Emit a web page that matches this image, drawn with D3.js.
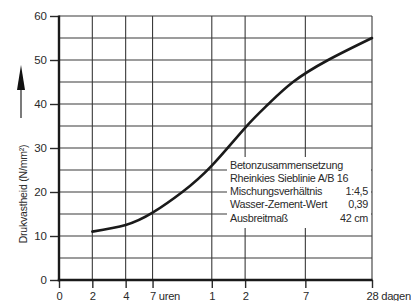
<!DOCTYPE html>
<html lang="nl">
<head>
<meta charset="UTF-8">
<title>Drukvastheid</title>
<script src="https://d3js.org/d3.v7.min.js"></script>
<style>
    body{ margin:0; background:#fff; }
    text{ font-family:"Liberation Sans", Arial, sans-serif; fill:#2a2a2a; }
    .grid line{ stroke:#3a3a3a; stroke-width:1.1; }
</style>
</head>
<body>
<svg id="chart" width="411" height="301"></svg>
<script>
    // curve: age in hours vs compressive strength (N/mm²)
    let hours = [2, 4, 7, 13, 24, 48, 78, 130, 270, 672];
    let strength = [11, 12.5, 15.3, 20, 26, 34.6, 40, 45, 50, 55];

    let xTickHours = [1, 2, 4, 7, 24, 48, 168, 672];
    let xTickLabels = ["0", "2", "4", "7", "1", "2", "7", "28"];
    let xTickUnits = ["", "", "", " uren", "", "", "", " dagen"];
    let yTicks = [0, 10, 20, 30, 40, 50, 60];
    let yGrid = d3.range(5, 61, 5);

    let boxLines = [
        ["Betonzusammensetzung", ""],
        ["Rheinkies Sieblinie A/B 16", ""],
        ["Mischungsverhältnis", "1:4,5"],
        ["Wasser-Zement-Wert", "0,39"],
        ["Ausbreitmaß", "42 cm"]
    ];

    let svg = d3.select("#chart");
    let x = d3.scaleLog().domain([1, 672]).range([59, 372]);
    let y = d3.scaleLinear().domain([0, 60]).range([280, 16]);

    // grid
    let grid = svg.append("g").attr("class", "grid");
    grid.selectAll(".v").data(xTickHours.slice(1)).join("line")
        .attr("x1", d => x(d)).attr("x2", d => x(d))
        .attr("y1", y(60)).attr("y2", y(0));
    grid.selectAll(".h").data(yGrid).join("line")
        .attr("x1", x(1)).attr("x2", x(672))
        .attr("y1", d => y(d)).attr("y2", d => y(d));

    // legend box (covers grid)
    svg.append("rect").attr("x", 227).attr("y", 157)
        .attr("width", 144).attr("height", 71).attr("fill", "#fff");
    let lg = svg.append("g").style("font-size", "10.8px").style("letter-spacing", "-0.3px");
    boxLines.forEach(function(l, i){
        lg.append("text").attr("x", 230).attr("y", 168.5 + i * 13.3).text(l[0]);
        if (l[1]) {
            lg.append("text").attr("x", 368).attr("y", 168.5 + i * 13.3)
                .attr("text-anchor", "end").text(l[1]);
        }
    });

    // curve
    svg.append("path")
        .datum(hours.map((h, i) => [h, strength[i]]))
        .attr("fill", "none").attr("stroke", "#1a1a1a").attr("stroke-width", 2.6)
        .attr("stroke-linecap", "round")
        .attr("d", d3.line().x(d => x(d[0])).y(d => y(d[1])).curve(d3.curveNatural));

    // y axis
    let ya = svg.append("g").attr("transform", "translate(59,0)")
        .call(d3.axisLeft(y).tickValues(yTicks).tickSize(9).tickPadding(3));
    ya.select(".domain").remove();
    ya.selectAll(".tick line").attr("stroke", "#2a2a2a").attr("stroke-width", 1.4);
    ya.selectAll("text").style("font-size", "11.5px").attr("fill", "#2a2a2a");

    // x axis
    let xa = svg.append("g").attr("transform", "translate(0,280)")
        .call(d3.axisBottom(x).tickValues(xTickHours).tickSize(8).tickPadding(4)
            .tickFormat((d, i) => xTickLabels[i]));
    xa.select(".domain").remove();
    xa.selectAll(".tick line").attr("stroke", "#2a2a2a").attr("stroke-width", 1.4);
    xa.selectAll("text").style("font-size", "11.2px").style("letter-spacing", "-0.3px")
        .attr("fill", "#2a2a2a")
        .each(function(d, i){
            if (!xTickUnits[i]) return;
            let t = d3.select(this);
            let w = this.getComputedTextLength();
            t.attr("text-anchor", "start").attr("x", -w / 2);
            t.append("tspan").text(xTickUnits[i]);
        });

    // axis lines
    svg.append("line").attr("x1", 59).attr("x2", 59).attr("y1", y(60) - 0.5).attr("y2", y(0) + 1.2)
        .attr("stroke", "#1a1a1a").attr("stroke-width", 2.4);
    svg.append("line").attr("x1", 57.8).attr("x2", x(672) + 0.5).attr("y1", y(0)).attr("y2", y(0))
        .attr("stroke", "#1a1a1a").attr("stroke-width", 2.4);

    // y title with arrow
    svg.append("text").attr("transform", "translate(26.5,194) rotate(-90)")
        .attr("text-anchor", "middle").style("font-size", "10.5px").style("letter-spacing", "-0.2px")
        .text("Drukvastheid (N/mm²)");
    svg.append("line").attr("x1", 21).attr("x2", 21).attr("y1", 118).attr("y2", 85)
        .attr("stroke", "#222").attr("stroke-width", 1.2);
    svg.append("path").attr("d", "M21,65 L25,90 L17,90 Z").attr("fill", "#111");
</script>
</body>
</html>
